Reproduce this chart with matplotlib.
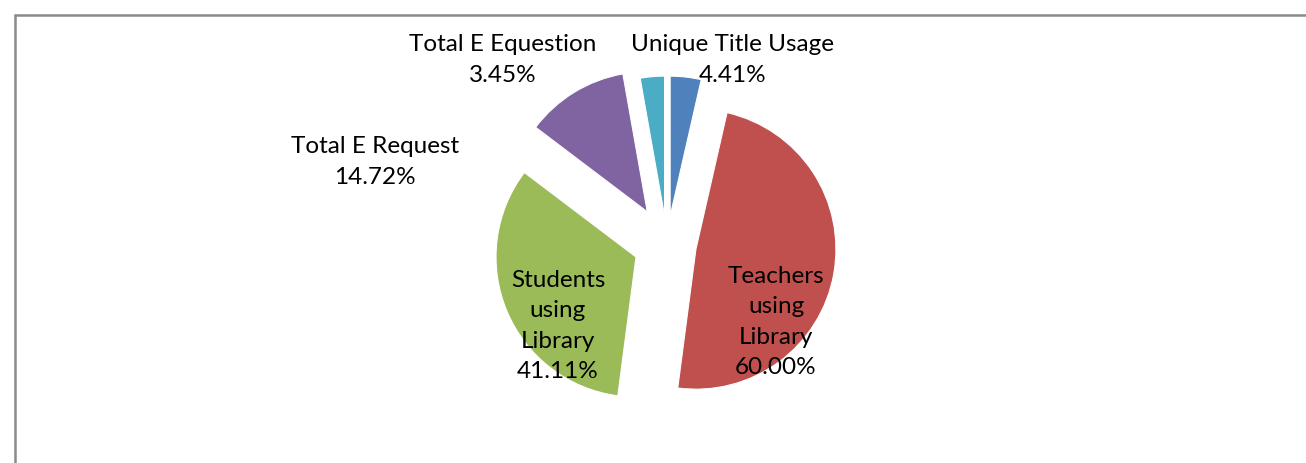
import matplotlib
matplotlib.use("Agg")
import matplotlib.pyplot as plt
from matplotlib.patches import Rectangle

categories = ["Unique Title Usage", "Teachers using Library", "Students using Library",
              "Total E Request", "Total E Equestion"]
values = [4.41, 60.00, 41.11, 14.72, 3.45]
label_texts = ["Unique Title Usage\n4.41%", "Teachers\nusing\nLibrary\n60.00%",
               "Students\nusing\nLibrary\n41.11%", "Total E Request\n14.72%",
               "Total E Equestion\n3.45%"]

colors = ["#4F81BD", "#C0504D", "#9BBB59", "#8064A2", "#4BACC6"]
explode = [0.2, 0.21, 0.24, 0.27, 0.2]
# label positions in radius units relative to pie centre
label_pos = [(0.471, 1.321), (0.779, -0.55), (-0.779, -0.579), (-2.086, 0.593), (-1.171, 1.321)]

W, H, DPI = 1306, 464, 100
cx, cy, R = 667, 245, 140  # pixels

fig = plt.figure(figsize=(W / DPI, H / DPI), dpi=DPI)
fig.patch.set_facecolor("white")
ax = fig.add_axes([0, 0, 1, 1])
ax.pie(values, colors=colors, explode=explode, startangle=90, counterclock=False,
       radius=1, wedgeprops=dict(edgecolor="white", linewidth=0.8))
ax.set_aspect("auto")
ax.set_xlim(-cx / R, (W - cx) / R)
ax.set_ylim(-(H - cy) / R, cy / R)
ax.axis("off")

for txt, (lx, ly) in zip(label_texts, label_pos):
    ax.text(lx, ly, txt, ha="center", va="center", fontsize=17.5, family="Lato",
            color="black", linespacing=1.55)

frame = Rectangle((15 / W, -0.2), 1.2, 1.2 - 16 / H, transform=fig.transFigure,
                  fill=False, edgecolor="#8a8a8a", linewidth=1.8)
fig.patches.append(frame)

fig.savefig("out.png", dpi=DPI, facecolor="white")
